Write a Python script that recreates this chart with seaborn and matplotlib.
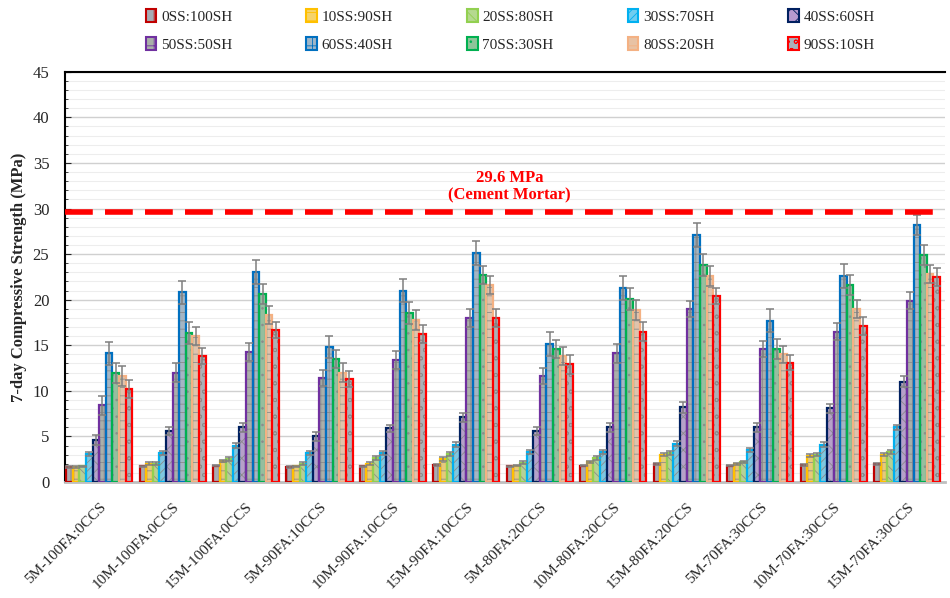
import numpy as np
import pandas as pd
import matplotlib
matplotlib.use("Agg")
import matplotlib.pyplot as plt
from matplotlib.patches import Patch, Rectangle
import seaborn as sns

# Data (MPa)
mixes = ['5M-100FA:0CCS', '10M-100FA:0CCS', '15M-100FA:0CCS',
         '5M-90FA:10CCS', '10M-90FA:10CCS', '15M-90FA:10CCS',
         '5M-80FA:20CCS', '10M-80FA:20CCS', '15M-80FA:20CCS',
         '5M-70FA:30CCS', '10M-70FA:30CCS', '15M-70FA:30CCS']
ratios = ['0SS:100SH', '10SS:90SH', '20SS:80SH', '30SS:70SH', '40SS:60SH',
          '50SS:50SH', '60SS:40SH', '70SS:30SH', '80SS:20SH', '90SS:10SH']

ss0 = [1.6, 1.7, 1.8, 1.6, 1.7, 1.9, 1.7, 1.8, 2.0, 1.8, 1.9, 2.0]
ss10 = [1.6, 2.0, 2.3, 1.7, 2.0, 2.5, 1.8, 2.2, 3.0, 2.0, 2.9, 3.0]
ss20 = [1.7, 2.0, 2.5, 2.0, 2.6, 3.1, 2.1, 2.6, 3.2, 2.2, 3.0, 3.3]
ss30 = [3.1, 3.2, 4.0, 3.2, 3.2, 4.1, 3.3, 3.3, 4.2, 3.5, 4.1, 6.0]
ss40 = [4.6, 5.6, 6.0, 5.0, 5.9, 7.1, 5.6, 6.0, 8.2, 6.0, 8.1, 11.0]
ss50 = [8.4, 12.0, 14.3, 11.4, 13.4, 18.0, 11.6, 14.1, 19.0, 14.6, 16.5, 19.9]
ss60 = [14.1, 20.8, 23.0, 14.8, 21.0, 25.1, 15.1, 21.3, 27.1, 17.7, 22.6, 28.2]
ss70 = [12.0, 16.3, 20.6, 13.5, 18.5, 22.7, 14.6, 20.1, 23.8, 14.6, 21.6, 24.9]
ss80 = [11.6, 16.0, 18.3, 12.0, 17.8, 21.6, 13.8, 18.9, 22.6, 14.0, 19.0, 22.8]
ss90 = [10.2, 13.8, 16.7, 11.3, 16.2, 18.0, 12.9, 16.5, 20.4, 13.1, 17.1, 22.5]

err0 = [0.1, 0.1, 0.1, 0.1, 0.1, 0.1, 0.1, 0.1, 0.1, 0.1, 0.1, 0.1]
err10 = [0.1, 0.15, 0.15, 0.1, 0.15, 0.2, 0.1, 0.15, 0.2, 0.1, 0.2, 0.2]
err20 = [0.1, 0.15, 0.2, 0.15, 0.2, 0.2, 0.15, 0.2, 0.2, 0.15, 0.2, 0.2]
err30 = [0.2, 0.2, 0.3, 0.2, 0.2, 0.3, 0.2, 0.2, 0.3, 0.2, 0.3, 0.3]
err40 = [0.5, 0.4, 0.5, 0.5, 0.4, 0.5, 0.4, 0.5, 0.6, 0.5, 0.5, 0.6]
err50 = [1.0, 1.0, 1.0, 0.9, 1.0, 1.0, 0.9, 1.0, 0.9, 0.9, 0.9, 0.9]
err60 = [1.3, 1.3, 1.3, 1.2, 1.3, 1.3, 1.3, 1.3, 1.3, 1.3, 1.3, 1.1]
err70 = [1.1, 1.2, 1.1, 1.0, 1.2, 1.0, 1.0, 1.2, 1.2, 1.1, 1.1, 1.1]
err80 = [1.1, 1.0, 1.0, 1.0, 1.1, 1.0, 1.0, 1.1, 1.1, 0.9, 1.0, 1.0]
err90 = [1.0, 0.9, 0.9, 0.9, 1.0, 1.0, 1.0, 1.0, 0.9, 0.8, 1.0, 1.0]

cement_mortar = 29.6

values = [ss0, ss10, ss20, ss30, ss40, ss50, ss60, ss70, ss80, ss90]
errors = [err0, err10, err20, err30, err40, err50, err60, err70, err80, err90]

# styles
edge_colors = ['#C00000', '#FFC000', '#92D050', '#00B0F0', '#002060',
               '#7030A0', '#0070C0', '#00B050', '#F4B183', '#FF0000']
face_colors = ['#A6ABB3', '#F6D36A', '#B5D98F', '#6FCDF0', '#B69AD0',
               '#A9B0A8', '#9FB6C8', '#8FC59A', '#E8C2A4', '#A9B1B9']
hatches = ['||', '--', '\\\\\\', '////', 'xx', '++', '++', '..', '--', 'oo']

sns.set_style("white")
plt.rcParams['font.family'] = ['Liberation Serif', 'DejaVu Serif']
plt.rcParams['hatch.linewidth'] = 0.6

rows = []
for r, vals in zip(ratios, values):
    for m, v in zip(mixes, vals):
        rows.append({'mix': m, 'ratio': r, 'strength': v})
df = pd.DataFrame(rows)

fig = plt.figure(figsize=(9.5, 5.98), dpi=100)
ax = fig.add_axes([0.068, 0.194, 0.927, 0.686])

sns.barplot(data=df, x='mix', y='strength', hue='ratio', order=mixes,
            hue_order=ratios, palette=face_colors, width=0.9, gap=0,
            legend=False, ax=ax, zorder=2)

bar_conts = list(ax.containers)
for i, cont in enumerate(bar_conts):
    for j, bar in enumerate(cont):
        bar.set_edgecolor('#8C8C8C')
        bar.set_hatch(hatches[i])
        bar.set_linewidth(0)
        ax.add_patch(Rectangle((bar.get_x(), 0), bar.get_width(), bar.get_height(),
                               fill=False, edgecolor=edge_colors[i], lw=1.6, zorder=3))
        ax.errorbar(bar.get_x() + bar.get_width() / 2, bar.get_height(),
                    yerr=errors[i][j], color='#7F7F7F', lw=1.1, capsize=3,
                    capthick=1.1, zorder=4)

ax.axhline(cement_mortar, color='#FF0000', lw=4, dashes=(5, 2.2), zorder=5)
ax.text(5.59, cement_mortar + 1.0, '29.6 MPa\n(Cement Mortar)', color='#FF0000',
        fontweight='bold', fontsize=12, ha='center', va='bottom', linespacing=1.05)

ax.set_ylim(0, 45)
ax.set_xlim(-0.47, 11.52)
ax.set_yticks(np.arange(0, 46, 5))
ax.set_yticks(np.arange(0, 46, 1), minor=True)
ax.grid(True, which='major', axis='y', color='#D0D0D0', lw=1.0, zorder=0)
ax.grid(True, which='minor', axis='y', color='#EDEDED', lw=0.8, zorder=0)
ax.set_axisbelow(True)
ax.tick_params(axis='y', which='major', labelsize=12, length=4, direction='in',
               left=True, pad=11)
ax.tick_params(axis='y', which='minor', length=2.5, direction='in', left=True)
ax.tick_params(axis='x', length=0, labelsize=11, pad=13)
plt.setp(ax.get_xticklabels(), rotation=45, ha='right', rotation_mode='anchor')
ax.set_xlabel('')
ax.set_ylabel('7-day Compressive Strength (MPa)', fontsize=12, fontweight='bold',
              labelpad=4)

for s in ['left', 'top']:
    ax.spines[s].set_color('black')
    ax.spines[s].set_linewidth(1.5)
ax.spines['bottom'].set_color('#BFBFBF')
ax.spines['bottom'].set_linewidth(2)
ax.spines['right'].set_visible(False)

# legend filled row by row (5 per row)
handles = [Patch(facecolor=face_colors[i], edgecolor=edge_colors[i], hatch=hatches[i], lw=1.5)
           for i in range(len(ratios))]
order = [0, 5, 1, 6, 2, 7, 3, 8, 4, 9]
fig.legend([handles[k] for k in order], [ratios[k] for k in order],
           loc='upper left', bbox_to_anchor=(0.139, 1.008), ncol=5,
           frameon=False, fontsize=11, handlelength=0.7, handleheight=0.9,
           handletextpad=0.3, columnspacing=4.85, labelspacing=0.9)

fig.savefig('out.png', dpi=100)
